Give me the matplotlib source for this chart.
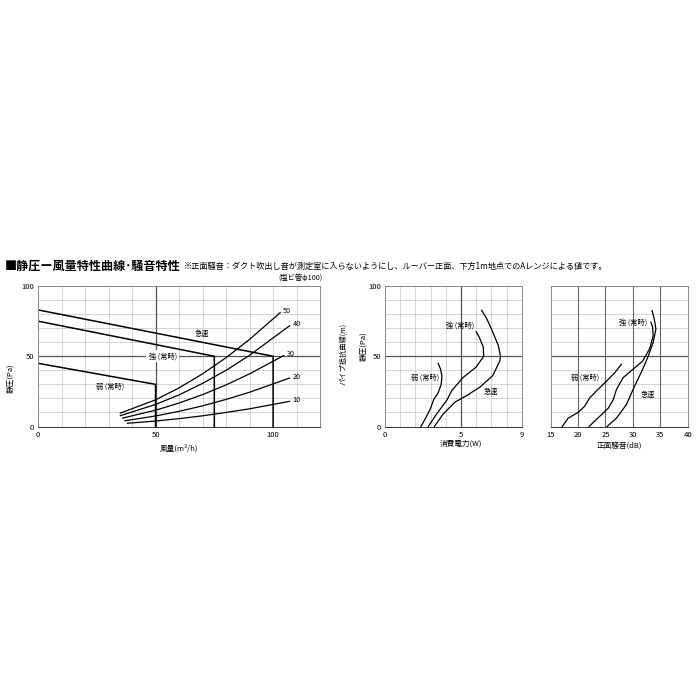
import matplotlib
matplotlib.use("Agg")
import matplotlib.pyplot as plt

plt.rcParams['font.family'] = ['Noto Sans CJK JP', 'DejaVu Sans']

# --- chart 1: static pressure vs air flow ---
kyuusoku_q = [0, 100, 100]
kyuusoku_p = [83, 50, 0]
tsuyo_q = [0, 75, 75]
tsuyo_p = [75, 50, 0]
yowa_q = [0, 50, 50]
yowa_p = [45, 30, 0]

# pipe resistance curves (m)
pipe_labels = ["50", "40", "30", "20", "10"]
pipe_q = [
    [35, 50, 60, 70, 80, 90, 103],
    [35, 50, 60, 70, 80, 90, 107],
    [36, 50, 60, 70, 80, 90, 104.5],
    [37, 50, 60, 70, 80, 90, 107],
    [38, 50, 60, 70, 80, 90, 107],
]
pipe_p = [
    [9.5, 19, 27.5, 37.5, 49, 62, 81],
    [7.7, 15.7, 22.5, 30.7, 40, 50.7, 71.7],
    [6, 11.6, 16.7, 22.7, 29.6, 37.5, 50.5],
    [4.1, 7.5, 10.8, 14.7, 19.3, 24.4, 34.5],
    [2.3, 3.9, 5.6, 7.6, 10, 12.6, 17.9],
]

# --- chart 2: power consumption ---
w_yowa = [2.37, 2.7, 3.0, 3.2, 3.5, 3.7, 3.75, 3.65, 3.5]
p_w_yowa = [0, 6.5, 13, 19, 24, 30, 36, 41, 45]
w_tsuyo = [2.85, 3.4, 4.06, 4.4, 5.15, 6.0, 6.5, 6.47, 6.2, 6.0]
p_w_tsuyo = [0, 9, 18.5, 25.6, 35, 42.3, 50, 56.5, 63.7, 67.5]
w_kyuu = [3.25, 3.84, 4.6, 5.37, 6.25, 7.1, 7.57, 7.6, 7.46, 7.0, 6.7, 6.36]
p_w_kyuu = [0, 9, 17.3, 22, 28, 36.3, 47, 50, 57.7, 69.6, 76.7, 82.7]

# --- chart 3: front noise ---
db_yowa = [17.1, 18.2, 20.0, 21.2, 22.1, 23.6, 25.2, 26.7, 27.9]
p_db_yowa = [0, 6, 10, 14.4, 20.3, 26.3, 32.3, 38.3, 44.3]
db_tsuyo = [22.0, 23.6, 25.5, 26.4, 27.0, 28.2, 30.0, 31.8, 33.1, 33.7, 33.6, 33.3]
p_db_tsuyo = [0, 6, 13, 19, 26.3, 34.7, 40.7, 46.7, 55.7, 64.6, 70.6, 74.2]
db_kyuu = [25.3, 27.0, 28.8, 30.3, 31.5, 32.7, 33.7, 34.2, 33.9, 33.5]
p_db_kyuu = [0, 6, 15.5, 28.7, 38.3, 49, 59.8, 69.4, 76.6, 82.5]

LIGHT = '#cfcfcf'
DARK = '#555555'
FS_TICK = 5.5
FS_NOTE = 5.2
TSUYO = "強 (常時)"
YOWA = "弱 (常時)"


def style_axes(ax, xlim, xgrid, xdark, xticks):
    ax.set_xlim(*xlim)
    ax.set_ylim(0, 100)
    for x in xgrid:
        ax.axvline(x, color=LIGHT, lw=0.6, zorder=0)
    for x in xdark:
        ax.axvline(x, color=DARK, lw=0.9, zorder=1)
    for y in range(10, 100, 10):
        ax.axhline(y, color=LIGHT, lw=0.6, zorder=0)
    ax.axhline(50, color=DARK, lw=0.9, zorder=1)
    for s in ax.spines.values():
        s.set_color('#888888')
        s.set_linewidth(0.7)
    ax.spines['bottom'].set_color('#333333')
    ax.set_xticks(xticks)
    ax.tick_params(length=0, labelsize=FS_TICK, pad=3)


fig = plt.figure(figsize=(7, 7), dpi=100)

fig.text(0.007, 0.620, "■静圧ー風量特性曲線･騒音特性", fontsize=8.7,
         fontweight='bold', va='center', ha='left')
fig.text(0.262, 0.620,
         "※正面騒音：ダクト吹出し音が測定室に入らないようにし、ルーバー正面、下方1m地点でのAレンジによる値です。",
         fontsize=5.9, va='center', ha='left')

# chart 1
ax1 = fig.add_axes([0.0543, 0.3907, 0.403, 0.2007])
style_axes(ax1, (0, 120), range(10, 120, 10), [50], [0, 50, 100])
ax1.set_yticks([0, 50, 100])
ax1.plot(kyuusoku_q, kyuusoku_p, color='black', lw=1.1)
ax1.plot(tsuyo_q, tsuyo_p, color='black', lw=1.1)
ax1.plot(yowa_q, yowa_p, color='black', lw=1.1)
for lab, qs, ps in zip(pipe_labels, pipe_q, pipe_p):
    ax1.plot(qs, ps, color='black', lw=0.9)
    ax1.text(qs[-1] + 1.2, ps[-1] + 1, lab, fontsize=FS_NOTE, va='center', ha='left')
ax1.text(69.6, 66, "急速", fontsize=FS_NOTE, ha='center', va='center')
ax1.text(53, 50, TSUYO, fontsize=FS_NOTE, ha='center', va='center',
         bbox=dict(facecolor='white', edgecolor='none', pad=1.5), zorder=3)
ax1.text(30.5, 28.6, YOWA, fontsize=FS_NOTE, ha='center', va='center')
ax1.set_xlabel("風量(m³/h)", fontsize=FS_TICK, labelpad=4)
fig.text(0.014, 0.46, "静圧(Pa)", fontsize=FS_TICK, rotation=90, ha='center', va='center')
fig.text(0.429, 0.604, "(塩ビ管φ100)", fontsize=FS_NOTE, ha='center', va='center')
fig.text(0.49, 0.495, "パイプ抵抗曲線(m)", fontsize=FS_NOTE, rotation=90,
         ha='center', va='center')

# chart 2
ax2 = fig.add_axes([0.55, 0.3907, 0.1953, 0.2007])
style_axes(ax2, (0, 9), range(1, 9), [5], [0, 5, 9])
ax2.set_yticks([0, 50, 100])
ax2.plot(w_yowa, p_w_yowa, color='black', lw=0.9)
ax2.plot(w_tsuyo, p_w_tsuyo, color='black', lw=0.9)
ax2.plot(w_kyuu, p_w_kyuu, color='black', lw=0.9)
ax2.text(4.93, 72, TSUYO, fontsize=FS_NOTE, ha='center', va='center')
ax2.text(2.63, 35, YOWA, fontsize=FS_NOTE, ha='center', va='center')
ax2.text(6.95, 24.5, "急速", fontsize=FS_NOTE, ha='center', va='center')
ax2.text(5, -12, "消費電力(W)", fontsize=FS_TICK, ha='center', va='center')
fig.text(0.519, 0.505, "静圧(Pa)", fontsize=FS_TICK, rotation=90, ha='center', va='center')

# chart 3
ax3 = fig.add_axes([0.7867, 0.3907, 0.1957, 0.2007])
style_axes(ax3, (15, 40), [], [20, 25, 30, 35], [15, 20, 25, 30, 35, 40])
for ln in ax3.lines[:4]:
    ln.set_color('#666666')
    ln.set_linewidth(0.8)
ax3.set_yticks([])
ax3.plot(db_yowa, p_db_yowa, color='black', lw=0.9)
ax3.plot(db_tsuyo, p_db_tsuyo, color='black', lw=0.9)
ax3.plot(db_kyuu, p_db_kyuu, color='black', lw=0.9)
ax3.text(30.1, 73.7, TSUYO, fontsize=FS_NOTE, ha='center', va='center')
ax3.text(21.2, 35, YOWA, fontsize=FS_NOTE, ha='center', va='center')
ax3.text(32.7, 22.2, "急速", fontsize=FS_NOTE, ha='center', va='center')
ax3.set_xlabel("正面騒音(dB)", fontsize=FS_TICK, labelpad=2)

fig.savefig("out.png", dpi=100)
